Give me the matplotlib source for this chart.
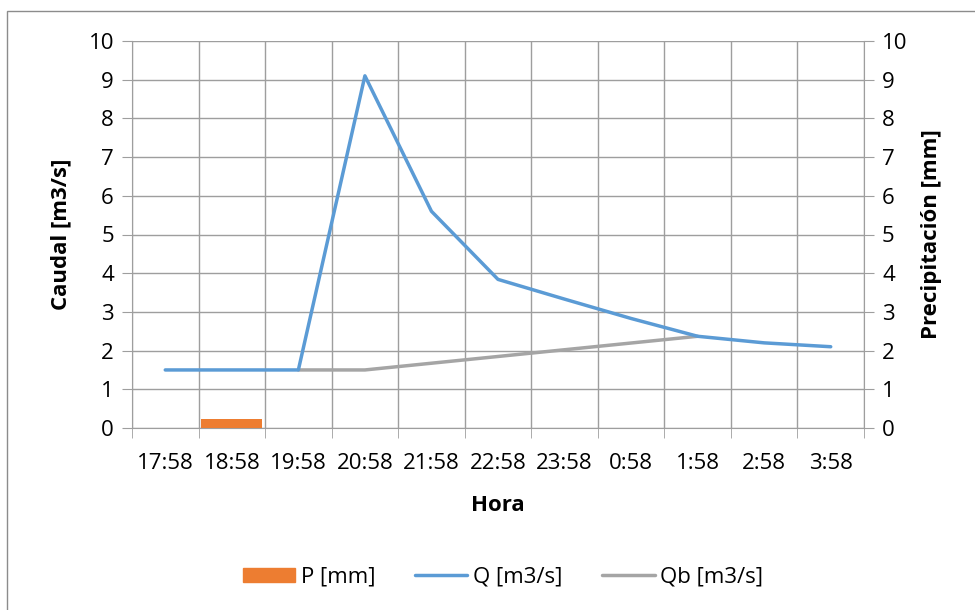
import numpy as np
import matplotlib.pyplot as plt
from matplotlib.patches import Rectangle, Patch
from matplotlib.lines import Line2D

# Datos
horas = ["17:58", "18:58", "19:58", "20:58", "21:58", "22:58",
         "23:58", "0:58", "1:58", "2:58", "3:58"]
p_mm = [0, 0.22, 0, 0, 0, 0, 0, 0, 0, 0, 0]
q = [1.5, 1.5, 1.5, 9.1, 5.6, 3.84, 3.33, 2.83, 2.37, 2.2, 2.1]
qb = [np.nan, np.nan, 1.5, 1.5, 1.674, 1.848, 2.022, 2.196, 2.37, np.nan, np.nan]

plt.rcParams['font.family'] = ['Open Sans', 'DejaVu Sans']
grid_col = '#9E9E9E'
fs = 16

fig = plt.figure(figsize=(9.75, 6.1), dpi=100)
ax1 = fig.add_axes([132 / 975, 1 - 428 / 610, (864 - 132) / 975, (428 - 41) / 610])
ax2 = ax1.twinx()

x = np.arange(len(horas))

# barras de precipitacion en el eje secundario
ax2.bar(x, p_mm, width=0.92, color='#ED7D31', zorder=1)

ax1.plot(x, qb, color='#A5A5A5', lw=2.5, solid_capstyle='round', zorder=3)
ax1.plot(x, q, color='#5B9BD5', lw=2.5, solid_capstyle='round', zorder=4)

for ax in (ax1, ax2):
    ax.set_ylim(0, 10)
    ax.set_yticks(range(0, 11))
    ax.set_xlim(-0.5, len(horas) - 0.5)
    for s in ax.spines.values():
        s.set_visible(False)
    ax.tick_params(axis='y', length=7, color=grid_col, labelsize=fs, pad=6)

ax1.spines['left'].set_visible(True)
ax1.spines['left'].set_color(grid_col)
ax1.spines['bottom'].set_visible(True)
ax1.spines['bottom'].set_color(grid_col)
ax2.spines['right'].set_visible(True)
ax2.spines['right'].set_color(grid_col)

ax1.set_xticks(x)
ax1.set_xticklabels(horas, fontsize=fs)
ax1.set_xticks(np.arange(-0.5, len(horas)), minor=True)
ax1.tick_params(axis='x', which='major', length=0, pad=18)
ax1.tick_params(axis='x', which='minor', length=7, color=grid_col)
ax1.grid(True, which='minor', axis='x', color=grid_col, lw=1)
ax1.grid(True, which='major', axis='y', color=grid_col, lw=1)
ax1.set_axisbelow(True)

ax1.set_xlabel("Hora", fontsize=fs, fontweight='bold', labelpad=15)
ax1.set_ylabel("Caudal [m3/s]", fontsize=fs, fontweight='bold', labelpad=12)
ax2.set_ylabel("Precipitación [mm]", fontsize=fs, fontweight='bold', labelpad=10)

# leyenda inferior
handles = [Patch(color='#ED7D31'),
           Line2D([], [], color='#5B9BD5', lw=2.5, solid_capstyle='round'),
           Line2D([], [], color='#A5A5A5', lw=2.5, solid_capstyle='round')]
fig.legend(handles, ["P [mm]", "Q [m3/s]", "Qb [m3/s]"], loc='center',
           bbox_to_anchor=(503 / 975, 1 - 577 / 610), ncol=3, frameon=False,
           fontsize=fs, handlelength=2.35, handleheight=0.6, columnspacing=1.8,
           handletextpad=0.25)

# borde del area del grafico
fig.patches.append(Rectangle((7 / 975, -0.1), 1.1, 0.1 + (610 - 11) / 610,
                             transform=fig.transFigure, fill=False,
                             edgecolor='#8C8C8C', lw=1))

fig.savefig("out.png", dpi=100)
